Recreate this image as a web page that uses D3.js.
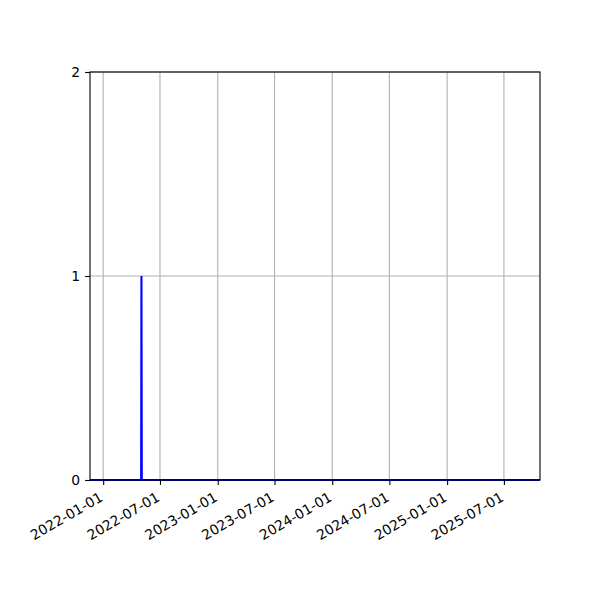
<!DOCTYPE html>
<html lang="en">
<head>
    <meta charset="UTF-8">
    <title>Chart</title>
    <style>
        body { margin: 0; background: #fff; }
        text { font-family: "DejaVu Sans", sans-serif; }
    </style>
</head>
<body>
    <div id="wrapper"></div>
    <script src="https://d3js.org/d3.v7.min.js"></script>
    <script>
        // data: flat at zero, a single spike of 1
        const dates = ['2021-11-20', '2022-05-02', '2022-05-03', '2022-05-04', '2025-10-24'];
        const values = [0, 0, 1, 0, 0];
        const tickDates = ['2022-01-01', '2022-07-01', '2023-01-01', '2023-07-01',
                           '2024-01-01', '2024-07-01', '2025-01-01', '2025-07-01'];
        const yTicks = [0, 1, 2];

        const parse = d3.utcParse('%Y-%m-%d');
        const fmt = d3.utcFormat('%Y-%m-%d');

        const width = 600, height = 600;
        const margin = { top: 72, right: 60, bottom: 120, left: 90 };

        const svg = d3.select('#wrapper').append('svg')
            .attr('width', width)
            .attr('height', height);

        const x = d3.scaleUtc()
            .domain([parse(dates[0]), parse(dates[dates.length - 1])])
            .range([margin.left, width - margin.right]);

        const y = d3.scaleLinear()
            .domain([0, 2])
            .range([height - margin.bottom, margin.top]);

        // grid
        svg.append('g')
            .selectAll('line.gx')
            .data(tickDates)
            .enter()
            .append('line')
            .attr('x1', d => x(parse(d)))
            .attr('x2', d => x(parse(d)))
            .attr('y1', margin.top)
            .attr('y2', height - margin.bottom)
            .attr('stroke', '#b0b0b0')
            .attr('stroke-width', 1.1);

        svg.append('g')
            .selectAll('line.gy')
            .data(yTicks)
            .enter()
            .append('line')
            .attr('x1', margin.left)
            .attr('x2', width - margin.right)
            .attr('y1', d => y(d))
            .attr('y2', d => y(d))
            .attr('stroke', '#b0b0b0')
            .attr('stroke-width', 1.1);

        // line
        const line = d3.line()
            .x((d, i) => x(parse(dates[i])))
            .y(d => y(d));

        svg.append('path')
            .datum(values)
            .attr('fill', 'none')
            .attr('stroke', '#0000ff')
            .attr('stroke-width', 2.1)
            .attr('d', line);

        // frame
        svg.append('rect')
            .attr('x', margin.left)
            .attr('y', margin.top)
            .attr('width', width - margin.left - margin.right)
            .attr('height', height - margin.top - margin.bottom)
            .attr('fill', 'none')
            .attr('stroke', '#000')
            .attr('stroke-width', 1.1);

        // x axis
        const xAxis = d3.axisBottom(x)
            .tickValues(tickDates.map(parse))
            .tickFormat(fmt)
            .tickSize(4.9)
            .tickPadding(3.5);

        const gx = svg.append('g')
            .attr('transform', `translate(0,${height - margin.bottom})`)
            .call(xAxis);
        gx.select('.domain').remove();
        gx.selectAll('line').attr('stroke', '#000').attr('stroke-width', 1.1);
        gx.selectAll('text')
            .attr('font-size', '13.9px')
            .attr('fill', '#000')
            .attr('text-anchor', 'end')
            .attr('dy', null)
            .attr('y', 0)
            .attr('transform', 'translate(-5,11) rotate(-30)')
            .attr('dominant-baseline', 'hanging');

        // y axis
        const yAxis = d3.axisLeft(y)
            .tickValues(yTicks)
            .tickFormat(d3.format('d'))
            .tickSize(4.9)
            .tickPadding(4.9);

        const gy = svg.append('g')
            .attr('transform', `translate(${margin.left},0)`)
            .call(yAxis);
        gy.select('.domain').remove();
        gy.selectAll('line').attr('stroke', '#000').attr('stroke-width', 1.1);
        gy.selectAll('text')
            .attr('font-size', '13.9px')
            .attr('fill', '#000');
    </script>
</body>
</html>
